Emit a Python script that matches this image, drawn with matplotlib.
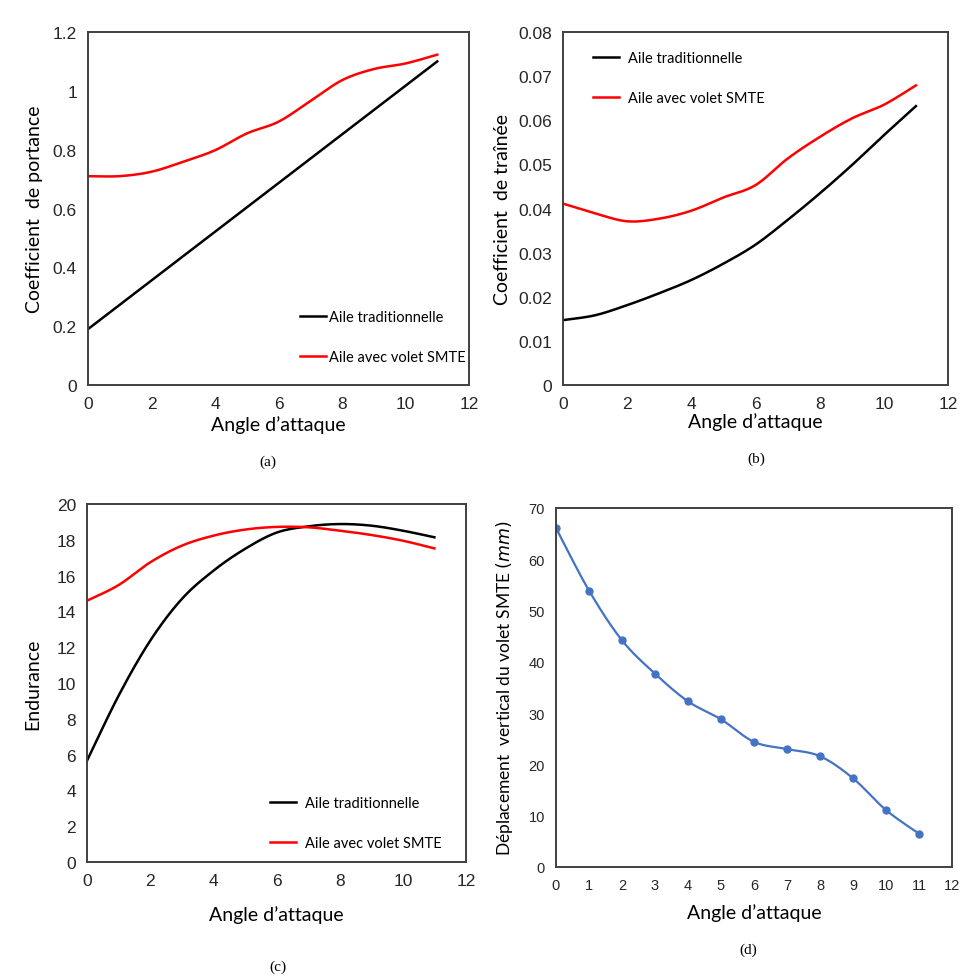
import numpy as np
import matplotlib
matplotlib.use('Agg')
import matplotlib.pyplot as plt

# Données
angle = [0, 1, 2, 3, 4, 5, 6, 7, 8, 9, 10, 11]

portance_trad = [0.19, 0.2727, 0.3555, 0.4382, 0.5209, 0.6036, 0.6864, 0.7691,
                 0.8518, 0.9345, 1.0173, 1.10]
portance_smte = [0.71, 0.71, 0.725, 0.759, 0.798, 0.855, 0.895, 0.965,
                 1.036, 1.074, 1.093, 1.123]

trainee_trad = [0.0147, 0.0158, 0.0181, 0.0208, 0.0238, 0.0275, 0.0318, 0.0374,
                0.0434, 0.0498, 0.0566, 0.0632]
trainee_smte = [0.0411, 0.0389, 0.0371, 0.0377, 0.0395, 0.0425, 0.0453, 0.0513,
                0.0562, 0.0604, 0.0635, 0.0679]

endurance_trad = [5.66, 9.29, 12.36, 14.69, 16.27, 17.49, 18.4, 18.75,
                  18.88, 18.79, 18.51, 18.14]
endurance_smte = [14.6, 15.47, 16.74, 17.67, 18.23, 18.57, 18.72, 18.70,
                  18.51, 18.27, 17.95, 17.52]

deplacement = [66.1, 53.9, 44.2, 37.7, 32.3, 28.8, 24.4, 23.0, 21.6, 17.3, 11.1, 6.5]


def lisser(x, y, n=24):
    # courbe lissée type Excel (Catmull-Rom) passant par les points
    x = np.asarray(x, float)
    y = np.asarray(y, float)
    px = np.concatenate([[x[0]], x, [x[-1]]])
    py = np.concatenate([[y[0]], y, [y[-1]]])
    xs, ys = [], []
    t = np.linspace(0, 1, n, endpoint=False)
    for i in range(1, len(px) - 2):
        for p, out in ((px, xs), (py, ys)):
            p0, p1, p2, p3 = p[i - 1], p[i], p[i + 1], p[i + 2]
            out.extend(0.5 * ((2 * p1) + (-p0 + p2) * t
                              + (2 * p0 - 5 * p1 + 4 * p2 - p3) * t ** 2
                              + (-p0 + 3 * p1 - 3 * p2 + p3) * t ** 3))
    xs.append(x[-1])
    ys.append(y[-1])
    return np.array(xs), np.array(ys)


TICK_FONT = 'Liberation Sans'
LABEL_FONT = 'Lato'
CAP_FONT = 'Liberation Serif'
SPINE = '#404040'


def style_axes(ax, ymax, ystep, tick_size=12.5):
    ax.set_xlim(0, 12)
    ax.set_ylim(0, ymax)
    ax.set_yticks(np.arange(0, ymax + ystep / 2, ystep))
    ax.tick_params(length=0, pad=8, labelsize=tick_size, colors='#262626')
    for lab in ax.get_xticklabels() + ax.get_yticklabels():
        lab.set_fontfamily(TICK_FONT)
    for s in ax.spines.values():
        s.set_color(SPINE)
        s.set_linewidth(1.4)


fig = plt.figure(figsize=(9.74, 9.78), dpi=100)
W, H = 974, 978


def axes_px(l, t, r, b):
    return fig.add_axes([l / W, 1 - b / H, (r - l) / W, (b - t) / H])


# (a) portance
ax_a = axes_px(88, 33, 469, 386)
ax_a.plot(*lisser(angle, portance_trad), color='black', lw=1.8, label='Aile traditionnelle')
ax_a.plot(*lisser(angle, portance_smte), color='#ff0000', lw=1.8, label='Aile avec volet SMTE')
style_axes(ax_a, 1.2, 0.2)
ax_a.set_yticks([0, 0.2, 0.4, 0.6, 0.8, 1, 1.2])
ax_a.set_yticklabels(['0', '0.2', '0.4', '0.6', '0.8', '1', '1.2'], fontfamily=TICK_FONT)
ax_a.set_ylabel('Coefficient  de portance', fontfamily=LABEL_FONT, fontsize=14, labelpad=7)
ax_a.set_xlabel("Angle d\u2019attaque", fontfamily=LABEL_FONT, fontsize=14, labelpad=3)
ax_a.legend(loc='upper left', bbox_to_anchor=(0.556, 0.212), frameon=False,
            borderpad=0, borderaxespad=0, labelspacing=1.8, handlelength=1.8,
            handletextpad=0.2, prop={'family': LABEL_FONT, 'size': 10.5})
fig.text(268 / W, 1 - 462 / H, '(a)', fontfamily=CAP_FONT, fontsize=11, ha='center', va='center')

# (b) traînée
ax_b = axes_px(563, 33, 948, 386)
ax_b.plot(*lisser(angle, trainee_trad), color='black', lw=1.8, label='Aile traditionnelle')
ax_b.plot(*lisser(angle, trainee_smte), color='#ff0000', lw=1.8, label='Aile avec volet SMTE')
style_axes(ax_b, 0.08, 0.01)
ax_b.set_yticklabels(['0', '0.01', '0.02', '0.03', '0.04', '0.05', '0.06', '0.07', '0.08'],
                     fontfamily=TICK_FONT)
ax_b.set_ylabel('Coefficient  de traîn\u00e9e', fontfamily=LABEL_FONT, fontsize=14, labelpad=5)
ax_b.set_xlabel("Angle d\u2019attaque", fontfamily=LABEL_FONT, fontsize=14, labelpad=1)
ax_b.legend(loc='upper left', bbox_to_anchor=(0.078, 0.946), frameon=False,
            borderpad=0, borderaxespad=0, labelspacing=1.8, handlelength=1.8,
            handletextpad=0.6, prop={'family': LABEL_FONT, 'size': 10.5})
fig.text(756 / W, 1 - 459 / H, '(b)', fontfamily=CAP_FONT, fontsize=11, ha='center', va='center')

# (c) endurance
ax_c = axes_px(87, 505, 466, 863)
ax_c.plot(*lisser(angle, endurance_trad), color='black', lw=1.8, label='Aile traditionnelle')
ax_c.plot(*lisser(angle, endurance_smte), color='#ff0000', lw=1.8, label='Aile avec volet SMTE')
style_axes(ax_c, 20, 2)
ax_c.set_ylabel('Endurance', fontfamily=LABEL_FONT, fontsize=14, labelpad=11)
ax_c.set_xlabel("Angle d\u2019attaque", fontfamily=LABEL_FONT, fontsize=14, labelpad=12)
ax_c.legend(loc='upper left', bbox_to_anchor=(0.483, 0.185), frameon=False,
            borderpad=0, borderaxespad=0, labelspacing=1.8, handlelength=1.8,
            handletextpad=0.6, prop={'family': LABEL_FONT, 'size': 10.5})
fig.text(278 / W, 1 - 967 / H, '(c)', fontfamily=CAP_FONT, fontsize=11, ha='center', va='center')

# (d) déplacement du volet
ax_d = axes_px(556, 509, 952, 868)
ax_d.plot(*lisser(angle, deplacement), color='#4472c4', lw=1.6)
ax_d.plot(angle, deplacement, 'o', color='#4472c4', ms=5)
style_axes(ax_d, 70, 10, tick_size=10.5)
ax_d.set_xticks(range(0, 13))
for lab in ax_d.get_xticklabels():
    lab.set_fontfamily(TICK_FONT)
ax_d.set_ylabel('D\u00e9placement  vertical du volet SMTE $\\it{(mm)}$',
                fontfamily=LABEL_FONT, fontsize=12.5, labelpad=10)
ax_d.set_xlabel("Angle d\u2019attaque", fontfamily=LABEL_FONT, fontsize=14, labelpad=8)
fig.text(748 / W, 1 - 950 / H, '(d)', fontfamily=CAP_FONT, fontsize=11, ha='center', va='center')

fig.savefig('out.png', dpi=100, facecolor='white')
